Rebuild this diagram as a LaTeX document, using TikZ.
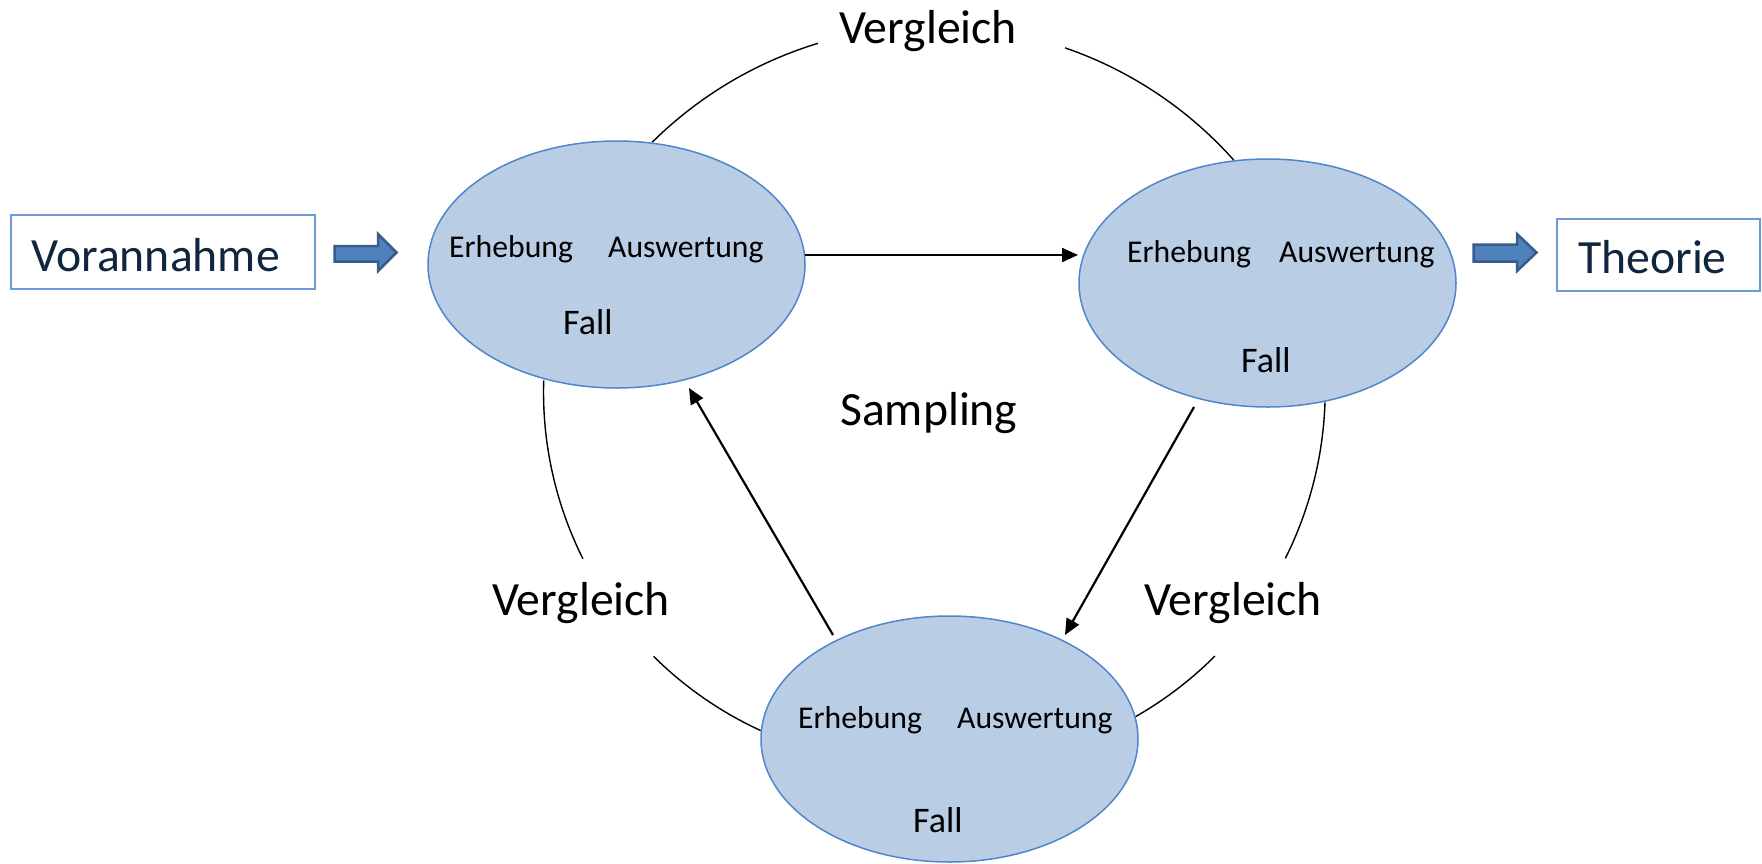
\documentclass[tikz,border=0pt]{standalone}
\usepackage{fontspec}
\setmainfont{Carlito}
\usetikzlibrary{shapes.geometric,arrows.meta,calc}
\definecolor{ellfill}{HTML}{B9CDE5}
\definecolor{elldraw}{HTML}{4F86CC}
\definecolor{boxdraw}{HTML}{6A9AD8}
\definecolor{navy}{HTML}{10263F}
\definecolor{blkfill}{HTML}{4F81BD}
\definecolor{blkdraw}{HTML}{385D8A}
\tikzset{
  fallell/.style={ellipse, fill=ellfill, draw=elldraw, line width=1.5pt, inner sep=0pt, outer sep=0pt},
  small/.style={anchor=base west, inner sep=0pt, font=\fontsize{31.7}{36}\selectfont},
  falltext/.style={anchor=base west, inner sep=0pt, font=\fontsize{36}{40}\selectfont},
  big/.style={anchor=base west, inner sep=0pt, font=\fontsize{47.7}{52}\selectfont},
  framebox/.style={draw=boxdraw, line width=1.5pt, inner sep=0pt, outer sep=0pt},
  arcline/.style={line width=1.4pt, black},
  arr/.style={line width=2.2pt, black, -{Triangle[length=16pt,width=14pt]}},
  blockarrow/.style={fill=blkfill, draw=blkdraw, line width=2.5pt, line join=miter},
}
\begin{document}
\begin{tikzpicture}[x=1pt,y=-1pt]
\useasboundingbox (0,0) rectangle (1762,863);

% arcs (drawn first, ellipses cover ends)
\coordinate (ctop) at (934.5,427);
\coordinate (cleft) at (916,392);
\coordinate (cright) at (948.7,389.8);
\draw[arcline] ([shift={(225.25:401)}]ctop) arc[start angle=225.25, end angle=253.1, radius=401];
\draw[arcline] ([shift={(289:401)}]ctop) arc[start angle=289, end angle=318.5, radius=401];
\draw[arcline] ([shift={(181.8:372.5)}]cleft) arc[start angle=181.8, end angle=153.4, radius=372.5];
\draw[arcline] ([shift={(134.8:372.5)}]cleft) arc[start angle=134.8, end angle=114.6, radius=372.5];
\draw[arcline] ([shift={(1.9:376.5)}]cright) arc[start angle=1.9, end angle=26.6, radius=376.5];
\draw[arcline] ([shift={(45:376.5)}]cright) arc[start angle=45, end angle=60.3, radius=376.5];

% ellipses
\node[fallell, minimum width=377pt, minimum height=247pt] (e1) at (616.5,264.5) {};
\node[fallell, minimum width=377pt, minimum height=248pt] (e2) at (1267.5,283) {};
\node[fallell, minimum width=377pt, minimum height=246pt] (e3) at (949.5,739) {};

% ellipse texts
\node[small] (e1a) at (449,257) {Erhebung};
\node[small] (e1b) at (608,257) {Auswertung};
\node[falltext] (e1c) at (563,334) {Fall};
\node[small] (e2a) at (1127,262) {Erhebung};
\node[small] (e2b) at (1279,262) {Auswertung};
\node[falltext] (e2c) at (1241,372) {Fall};
\node[small] (e3a) at (798,728) {Erhebung};
\node[small] (e3b) at (957,728) {Auswertung};
\node[falltext] (e3c) at (913,832) {Fall};

% labels
\node[big] (vtop) at (839,43) {Vergleich};
\node[big] (vleft) at (492,615) {Vergleich};
\node[big] (vright) at (1144,615) {Vergleich};
\node[big] (samp) at (840,425) {Sampling};

% boxes
\node[framebox, minimum width=304pt, minimum height=74pt] (vor) at (163,252) {};
\node[big, text=navy] (vortext) at (31,271) {Vorannahme};
\node[framebox, minimum width=203pt, minimum height=72pt] (theo) at (1658.5,255) {};
\node[big, text=navy] (theotext) at (1578,273) {Theorie};

% block arrows
\draw[blockarrow] (334.5,246) -- (378,246) -- (378,234) -- (396.5,252.5) -- (378,271) -- (378,261.5) -- (334.5,261.5) -- cycle;
\draw[blockarrow] (1473.5,244.5) -- (1517,244.5) -- (1517,234) -- (1536.5,252.5) -- (1517,271) -- (1517,261.5) -- (1473.5,261.5) -- cycle;

% sampling arrows
\draw[arr] ([yshift=9.5pt]e1.east) -- ([yshift=9.5pt,xshift=-1pt]e1.east -| e2.west);
\draw[arr] ($(e2.center)+(-73.5,124)$) -- ($(e3.center)+(115.5,-104)$);
\draw[arr] ($(e3.center)+(-116.5,-104)$) -- ($(e1.center)+(72.5,123.5)$);
\end{tikzpicture}
\end{document}
